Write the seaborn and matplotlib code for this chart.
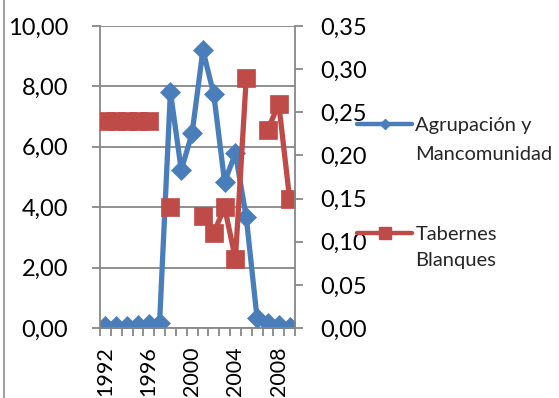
import numpy as np
import pandas as pd
import matplotlib
matplotlib.use("Agg")
import matplotlib.pyplot as plt
import seaborn as sns
from matplotlib.lines import Line2D
from matplotlib.ticker import FuncFormatter, FixedLocator

# Series values per year
years = list(range(1992, 2010))
agrupacion = [0.08, 0.07, 0.08, 0.10, 0.12, 0.18, 7.82, 5.23, 6.45, 9.20,
              7.74, 4.84, 5.78, 3.67, 0.32, 0.18, 0.10, 0.02]
tabernes = [0.24, 0.24, 0.24, 0.24, 0.24, np.nan, 0.14, np.nan, np.nan, 0.13,
            0.11, 0.14, 0.08, 0.29, np.nan, 0.23, 0.26, 0.15]

year_ticks = [1992, 1996, 2000, 2004, 2008]
left_ticks = [0, 2, 4, 6, 8, 10]
right_ticks = [0, 0.05, 0.10, 0.15, 0.20, 0.25, 0.30, 0.35]

label_a = ["Agrupación y", "Mancomunidad"]
label_t = ["Tabernes", "Blanques"]

BLUE = "#4A7EBB"
RED = "#BE4B48"
GRID = "#878787"
TICK_FS = 17
XTICK_FS = 15.5
LEG_FS = 14.5

sns.set_theme(style="white")
plt.rcParams["font.family"] = ["Lato", "DejaVu Sans"]

W, H = 559, 398
fig = plt.figure(figsize=(W / 100, H / 100), dpi=100)
ax = fig.add_axes([100 / W, 70 / H, 195 / W, 302 / H])
ax2 = ax.twinx()

df_a = pd.DataFrame({"year": years, "value": agrupacion})
df_t = pd.DataFrame({"year": years, "value": tabernes})
df_t["run"] = df_t["value"].isna().cumsum()
df_t = df_t.dropna()

sns.lineplot(data=df_a, x="year", y="value", ax=ax, color=BLUE, lw=3.8,
             marker="D", markersize=10, markeredgecolor=BLUE, markeredgewidth=0.5)
sns.lineplot(data=df_t, x="year", y="value", units="run", estimator=None, ax=ax2,
             color=RED, lw=3.8, marker="s", markersize=13.5,
             markeredgecolor=RED, markeredgewidth=0.5)

comma = lambda v, _: f"{v:.2f}".replace(".", ",")

for a in (ax, ax2):
    a.set_xlim(1991.5, 2009.5)
    a.set_xlabel("")
    a.set_ylabel("")
    for s in a.spines.values():
        s.set_visible(False)
    if a.get_legend():
        a.get_legend().remove()

ax.set_ylim(0, 10)
ax.yaxis.set_major_locator(FixedLocator(left_ticks))
ax.yaxis.set_major_formatter(FuncFormatter(comma))
ax.grid(axis="y", color=GRID, lw=1.3)
ax.set_axisbelow(True)
for side in ("left", "bottom"):
    ax.spines[side].set_visible(True)
    ax.spines[side].set_color(GRID)
    ax.spines[side].set_linewidth(1.3)
ax.tick_params(axis="y", which="major", left=True, length=6, width=1.3,
               color=GRID, pad=17, labelsize=TICK_FS, labelcolor="black")

ax.xaxis.set_major_locator(FixedLocator(year_ticks))
ax.xaxis.set_minor_locator(FixedLocator(np.arange(1991.5, 2010, 1.0)))
ax.tick_params(axis="x", which="major", bottom=False, length=0, pad=13,
               labelsize=XTICK_FS, labelrotation=90, labelcolor="black")
ax.tick_params(axis="x", which="minor", bottom=True, length=5.5, width=1.3, color=GRID)

ax2.set_ylim(0, 0.35)
ax2.yaxis.set_major_locator(FixedLocator(right_ticks))
ax2.yaxis.set_major_formatter(FuncFormatter(comma))
ax2.spines["right"].set_visible(True)
ax2.spines["right"].set_color(GRID)
ax2.spines["right"].set_linewidth(1.3)
ax2.tick_params(axis="y", which="major", right=True, length=6, width=1.3,
                color=GRID, pad=12, labelsize=TICK_FS, labelcolor="black")
ax2.tick_params(axis="x", bottom=False, labelbottom=False)

# Legend: handle beside the first line of each label, second line below it
h_a = Line2D([], [], color=BLUE, lw=3.2, marker="D", ms=5)
h_t = Line2D([], [], color=RED, lw=3.2, marker="s", ms=9)
legs = []
for handle, lines, top, gap in ((h_a, label_a, 117, 28.5), (h_t, label_t, 226, 25.5)):
    leg = fig.legend([handle], [lines[0]], loc="upper left",
                     bbox_to_anchor=(357 / W, 1 - top / H), frameon=False,
                     fontsize=LEG_FS, handlelength=2.75, handletextpad=0.15,
                     borderpad=0, borderaxespad=0)
    legs.append((leg, lines[1], gap))

fig.canvas.draw()
renderer = fig.canvas.get_renderer()
for leg, second, gap in legs:
    t = leg.get_texts()[0]
    bb = t.get_window_extent(renderer)
    fig.text(bb.x0 / W, (bb.y0 - gap) / H, second, fontsize=LEG_FS,
             ha="left", va="bottom", color=t.get_color())

# Chart area border on the left edge
fig.add_artist(Line2D([4 / W, 4 / W], [0, 1], transform=fig.transFigure,
                      color="#8c8c8c", lw=1.2))

fig.savefig("out.png", dpi=100)
